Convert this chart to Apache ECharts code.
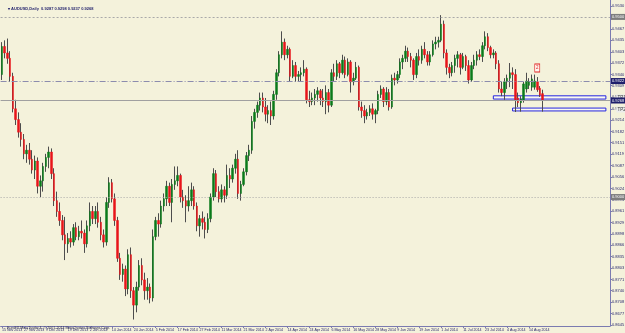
<!DOCTYPE html>
<html><head><meta charset="utf-8">
<script src="https://cdn.jsdelivr.net/npm/echarts@6/dist/echarts.min.js"></script>
<style>html,body{margin:0;padding:0;background:#F4F2DB;overflow:hidden}#c{width:625px;height:333px}</style>
</head><body><div id="c"></div>
<script>
// ---- trading days per month ----
const daysNov2013 = [15,18,19,20,21,22,25,26,27,28,29];
const daysDec2013 = [2,3,4,5,6,9,10,11,12,13,16,17,18,19,20,23,24,26,27,30,31];
const daysJan2014 = [2,3,6,7,8,9,10,13,14,15,16,17,20,21,22,23,24,27,28,29,30,31];
const daysFeb2014 = [3,4,5,6,7,10,11,12,13,14,17,18,19,20,21,24,25,26,27,28];
const daysMar2014 = [3,4,5,6,7,10,11,12,13,14,17,18,19,20,21,24,25,26,27,28,31];
const daysApr2014 = [1,2,3,4,7,8,9,10,11,14,15,16,17,18,21,22,23,24,25,28,29,30];
const daysMay2014 = [1,2,5,6,7,8,9,12,13,14,15,16,19,20,21,22,23,26,27,28,29,30];
const daysJun2014 = [2,3,4,5,6,9,10,11,12,13,16,17,18,19,20,23,24,25,26,27,30];
const daysJul2014 = [1,2,3,4,7,8,9,10,11,14,15,16,17,18,21,22,23,24,25,28,29,30,31];
const daysAug2014 = [1,4,5,6,7,8,11,12,13,14,15,18,19,20,21];
// empty future slots (chart shift area)
const futureDates = ['22 Aug 2014','25 Aug 2014','26 Aug 2014','27 Aug 2014','28 Aug 2014','29 Aug 2014',
 '1 Sep 2014','2 Sep 2014','3 Sep 2014','4 Sep 2014','5 Sep 2014','8 Sep 2014','9 Sep 2014','10 Sep 2014',
 '11 Sep 2014','12 Sep 2014','15 Sep 2014','16 Sep 2014','17 Sep 2014','18 Sep 2014','19 Sep 2014',
 '22 Sep 2014','23 Sep 2014','24 Sep 2014'];

// ---- OHLC per month: [open, high, low, close] ----
const nov2013 = [
[0.9340,0.9430,0.9325,0.9418],[0.9418,0.9435,0.9385,0.9400],[0.9400,0.9440,0.9370,0.9385],
[0.9385,0.9405,0.9320,0.9335],[0.9335,0.9345,0.9235,0.9245],[0.9245,0.9270,0.9200,0.9215],
[0.9215,0.9235,0.9165,0.9180],[0.9180,0.9205,0.9140,0.9160],[0.9160,0.9175,0.9105,0.9120],
[0.9120,0.9145,0.9095,0.9130],[0.9130,0.9150,0.9090,0.9105]];
const dec2013 = [
[0.9105,0.9130,0.9065,0.9075],[0.9075,0.9115,0.9050,0.9100],[0.9100,0.9110,0.9010,0.9030],
[0.9030,0.9060,0.9000,0.9045],[0.9045,0.9095,0.9015,0.9085],[0.9085,0.9120,0.9070,0.9110],
[0.9110,0.9140,0.9080,0.9125],[0.9125,0.9135,0.9050,0.9065],[0.9065,0.9080,0.8975,0.8990],
[0.8990,0.9015,0.8945,0.8960],[0.8960,0.8985,0.8920,0.8935],[0.8935,0.8950,0.8880,0.8895],
[0.8895,0.8945,0.8825,0.8870],[0.8870,0.8900,0.8845,0.8885],[0.8885,0.8905,0.8860,0.8875],
[0.8875,0.8925,0.8865,0.8915],[0.8915,0.8930,0.8880,0.8890],[0.8890,0.8920,0.8880,0.8905],
[0.8905,0.8935,0.8885,0.8900],[0.8900,0.8910,0.8845,0.8870],[0.8870,0.8935,0.8860,0.8920]];
const jan2014 = [
[0.8920,0.8985,0.8905,0.8960],[0.8960,0.8975,0.8925,0.8940],[0.8940,0.8975,0.8925,0.8960],
[0.8960,0.8985,0.8915,0.8930],[0.8930,0.8945,0.8880,0.8895],[0.8895,0.8910,0.8860,0.8875],
[0.8875,0.9000,0.8865,0.8985],[0.8985,0.9055,0.8970,0.9040],[0.9040,0.9050,0.8985,0.8995],
[0.8995,0.9010,0.8920,0.8935],[0.8935,0.8945,0.8820,0.8830],[0.8830,0.8845,0.8770,0.8785],
[0.8785,0.8815,0.8765,0.8800],[0.8800,0.8810,0.8725,0.8745],[0.8745,0.8855,0.8730,0.8840],
[0.8840,0.8860,0.8720,0.8740],[0.8740,0.8750,0.8660,0.8700],[0.8700,0.8765,0.8680,0.8750],
[0.8750,0.8825,0.8740,0.8810],[0.8810,0.8830,0.8755,0.8770],[0.8770,0.8790,0.8715,0.8740],
[0.8740,0.8775,0.8715,0.8750]];
const feb2014 = [
[0.8750,0.8760,0.8705,0.8720],[0.8720,0.8910,0.8710,0.8890],[0.8890,0.8945,0.8880,0.8935],
[0.8935,0.8955,0.8890,0.8925],[0.8925,0.8990,0.8915,0.8975],[0.8975,0.9010,0.8960,0.8995],
[0.8995,0.9045,0.8975,0.9030],[0.9030,0.9040,0.8975,0.8985],[0.8985,0.9050,0.8930,0.9035],
[0.9035,0.9085,0.9020,0.9045],[0.9045,0.9085,0.9030,0.9060],[0.9060,0.9065,0.8985,0.9000],
[0.9000,0.9020,0.8970,0.8990],[0.8990,0.9005,0.8930,0.8975],[0.8975,0.9030,0.8960,0.8990],
[0.8990,0.9040,0.8975,0.9020],[0.9020,0.9030,0.8965,0.8975],[0.8975,0.8985,0.8905,0.8920],
[0.8920,0.8950,0.8890,0.8940],[0.8940,0.8960,0.8910,0.8930]];
const mar2014 = [
[0.8930,0.8945,0.8885,0.8910],[0.8910,0.8955,0.8900,0.8940],[0.8940,0.9010,0.8930,0.9000],
[0.9000,0.9080,0.8990,0.9065],[0.9065,0.9075,0.9000,0.9015],[0.9015,0.9030,0.8985,0.8995],
[0.8995,0.9035,0.8985,0.9020],[0.9020,0.9030,0.8985,0.9005],[0.9005,0.9090,0.8995,0.9060],
[0.9060,0.9080,0.9025,0.9050],[0.9050,0.9090,0.9040,0.9080],[0.9080,0.9120,0.9065,0.9105],
[0.9105,0.9130,0.8995,0.9010],[0.9010,0.9045,0.8990,0.9035],[0.9035,0.9080,0.9030,0.9070],
[0.9070,0.9125,0.9060,0.9115],[0.9115,0.9145,0.9100,0.9130],[0.9130,0.9225,0.9120,0.9210],
[0.9210,0.9245,0.9190,0.9235],[0.9235,0.9265,0.9220,0.9255],[0.9255,0.9290,0.9240,0.9275]];
const apr2014 = [
[0.9275,0.9290,0.9235,0.9250],[0.9250,0.9275,0.9210,0.9230],[0.9230,0.9255,0.9205,0.9240],
[0.9240,0.9265,0.9200,0.9225],[0.9225,0.9295,0.9215,0.9285],[0.9285,0.9355,0.9270,0.9345],
[0.9345,0.9405,0.9335,0.9395],[0.9395,0.9460,0.9385,0.9430],[0.9430,0.9440,0.9380,0.9395],
[0.9395,0.9420,0.9385,0.9410],[0.9410,0.9415,0.9320,0.9335],[0.9335,0.9380,0.9330,0.9365],
[0.9365,0.9375,0.9320,0.9335],[0.9335,0.9350,0.9320,0.9340],[0.9340,0.9360,0.9320,0.9345],
[0.9345,0.9380,0.9335,0.9355],[0.9355,0.9360,0.9260,0.9270],[0.9270,0.9295,0.9250,0.9265],
[0.9265,0.9290,0.9255,0.9275],[0.9275,0.9300,0.9255,0.9285],[0.9285,0.9305,0.9265,0.9295],
[0.9295,0.9300,0.9255,0.9275]];
const may2014 = [
[0.9275,0.9300,0.9250,0.9265],[0.9265,0.9310,0.9230,0.9290],[0.9290,0.9300,0.9235,0.9255],
[0.9255,0.9355,0.9250,0.9345],[0.9345,0.9370,0.9320,0.9335],[0.9335,0.9380,0.9325,0.9370],
[0.9370,0.9375,0.9330,0.9345],[0.9345,0.9395,0.9340,0.9380],[0.9380,0.9390,0.9330,0.9340],
[0.9340,0.9385,0.9335,0.9375],[0.9375,0.9380,0.9290,0.9320],[0.9320,0.9345,0.9310,0.9330],
[0.9330,0.9375,0.9325,0.9360],[0.9360,0.9365,0.9240,0.9250],[0.9250,0.9265,0.9220,0.9240],
[0.9240,0.9255,0.9205,0.9225],[0.9225,0.9245,0.9215,0.9235],[0.9235,0.9255,0.9225,0.9245],
[0.9245,0.9260,0.9215,0.9230],[0.9230,0.9245,0.9205,0.9240],[0.9240,0.9295,0.9230,0.9285],
[0.9285,0.9310,0.9275,0.9300]];
const jun2014 = [
[0.9300,0.9305,0.9250,0.9265],[0.9265,0.9305,0.9255,0.9290],[0.9290,0.9300,0.9240,0.9250],
[0.9250,0.9340,0.9245,0.9330],[0.9330,0.9345,0.9310,0.9325],[0.9325,0.9350,0.9315,0.9340],
[0.9340,0.9385,0.9330,0.9375],[0.9375,0.9395,0.9355,0.9385],[0.9385,0.9420,0.9375,0.9405],
[0.9405,0.9415,0.9375,0.9390],[0.9390,0.9400,0.9360,0.9380],[0.9380,0.9385,0.9325,0.9340],
[0.9340,0.9400,0.9330,0.9390],[0.9390,0.9410,0.9365,0.9380],[0.9380,0.9420,0.9370,0.9410],
[0.9410,0.9430,0.9385,0.9395],[0.9395,0.9405,0.9365,0.9375],[0.9375,0.9405,0.9365,0.9395],
[0.9395,0.9435,0.9390,0.9425],[0.9425,0.9445,0.9410,0.9430],[0.9430,0.9445,0.9415,0.9435]];
const jul2014 = [
[0.9435,0.9505,0.9430,0.9480],[0.9480,0.9490,0.9385,0.9400],[0.9400,0.9410,0.9340,0.9360],
[0.9360,0.9370,0.9330,0.9345],[0.9345,0.9375,0.9335,0.9365],[0.9365,0.9395,0.9345,0.9385],
[0.9385,0.9405,0.9360,0.9395],[0.9395,0.9400,0.9340,0.9360],[0.9360,0.9400,0.9355,0.9390],
[0.9390,0.9395,0.9350,0.9365],[0.9365,0.9380,0.9315,0.9325],[0.9325,0.9375,0.9320,0.9365],
[0.9365,0.9395,0.9355,0.9380],[0.9380,0.9405,0.9365,0.9395],[0.9395,0.9410,0.9380,0.9390],
[0.9390,0.9430,0.9375,0.9420],[0.9420,0.9460,0.9410,0.9445],[0.9445,0.9455,0.9405,0.9415],
[0.9415,0.9420,0.9385,0.9395],[0.9395,0.9410,0.9385,0.9400],[0.9400,0.9405,0.9355,0.9370],
[0.9370,0.9380,0.9290,0.9300],[0.9300,0.9320,0.9280,0.9290]];
const aug2014 = [
[0.9290,0.9330,0.9270,0.9320],[0.9320,0.9340,0.9300,0.9330],[0.9330,0.9372,0.9305,0.9345],
[0.9345,0.9360,0.9300,0.9340],[0.9340,0.9355,0.9236,0.9270],[0.9275,0.9290,0.9250,0.9262],
[0.9262,0.9280,0.9237,0.9272],[0.9270,0.9320,0.9262,0.9314],[0.9300,0.9345,0.9290,0.9322],
[0.9310,0.9330,0.9300,0.9320],[0.9305,0.9340,0.9295,0.9328],[0.9305,0.9340,0.9298,0.9322],
[0.9320,0.9333,0.9292,0.9298],[0.9302,0.9308,0.9278,0.9283],[0.9287,0.9298,0.9237,0.9268]];

// ---- price axis tick labels ----
const priceTicks = [0.8645,0.8677,0.8708,0.8740,0.8771,0.8803,0.8835,0.8866,0.8898,0.8929,0.8961,
 0.8993,0.9024,0.9056,0.9087,0.9119,0.9151,0.9182,0.9214,0.9245,0.9277,0.9309,0.9340,0.9372,
 0.9403,0.9435,0.9467,0.9498,0.9530];

// ---- drawn objects ----
const levelHigh = 0.9500;
const levelMid = 0.9322;
const levelLow = 0.9000;
const tp1 = {from:'28 Jul 2014', to:'23 Sep 2014', top:0.9281, bottom:0.9272};
const tp2 = {from:'6 Aug 2014', to:'23 Sep 2014', top:0.9247, bottom:0.9239};
const marker = {date:'19 Aug 2014', price:0.9358, text:'2'};

// ---- build ----
const monthBlocks = [
 ['Nov 2013',daysNov2013,nov2013],['Dec 2013',daysDec2013,dec2013],['Jan 2014',daysJan2014,jan2014],
 ['Feb 2014',daysFeb2014,feb2014],['Mar 2014',daysMar2014,mar2014],['Apr 2014',daysApr2014,apr2014],
 ['May 2014',daysMay2014,may2014],['Jun 2014',daysJun2014,jun2014],['Jul 2014',daysJul2014,jul2014],
 ['Aug 2014',daysAug2014,aug2014]];
const dates = [], bars = [];
monthBlocks.forEach(([m,days,rows])=>{days.forEach((d,i)=>{dates.push(d+' '+m); bars.push(rows[i]);});});
const nBars = bars.length;
const categories = dates.concat(futureDates);
const wickData = bars.map(b=>[b[0],b[3],b[2],b[1]]);
const bodyData = bars.map(b=>[b[0],b[3],Math.min(b[0],b[3]),Math.max(b[0],b[3])]);
const last = bars[nBars-1];
const lastClose = last[3];

const FONT = 'Liberation Sans';
const NAVY = '#1f1f6b';
const axisLabelBox = (bg)=>({show:true,position:'end',distance:1,formatter:p=>Number(p.value).toFixed(4),
  fontSize:4,fontFamily:FONT,color:'#fff',backgroundColor:bg,padding:[1,2,1,1]});

const chart = echarts.init(document.getElementById('c'), null, {renderer:'canvas'});
chart.setOption({
  animation:false,
  backgroundColor:'#F4F2DB',
  title:[
    {text:'\u25BE AUDUSD,Daily  '+last.map(v=>v.toFixed(4)).join(' '),left:3,top:2,
     textStyle:{fontSize:4,fontWeight:'bold',color:NAVY,fontFamily:FONT}},
    {text:'EuroFX MetaTrader 4, \u00A9 2001-2014 MetaQuotes Software Corp.',left:2,top:321,
     textStyle:{fontSize:3.6,fontWeight:'normal',color:'#2a2a50',fontFamily:FONT}}
  ],
  grid:{left:0.6,right:15,top:0,bottom:7,outerBoundsMode:'none',containLabel:false},
  xAxis:{type:'category',data:categories,boundaryGap:true,
    axisLine:{show:true,lineStyle:{color:'#7b7bb0',width:1}},
    axisTick:{show:true,alignWithLabel:true,length:2,interval:(i)=>i%8===0&&i<nBars,lineStyle:{color:'#7b7bb0'}},
    axisLabel:{show:true,interval:(i)=>i%8===0&&i<nBars,fontSize:3.6,fontFamily:FONT,color:NAVY,align:'left',margin:2},
    splitLine:{show:false}},
  yAxis:{type:'value',position:'right',min:0.8642,max:0.9547,scale:true,
    axisLine:{show:true,lineStyle:{color:'#7b7bb0',width:1}},
    axisTick:{show:true,customValues:priceTicks,length:2,inside:false,lineStyle:{color:'#7b7bb0'}},
    axisLabel:{show:true,customValues:priceTicks,fontSize:4,fontFamily:FONT,color:NAVY,margin:2,
      formatter:v=>v.toFixed(4)},
    splitLine:{show:false}},
  series:[
    {type:'candlestick',name:'wicks',data:wickData,barWidth:1,silent:true,
     itemStyle:{color:'#4d4d4d',color0:'#4d4d4d',borderColor:'#4d4d4d',borderColor0:'#4d4d4d',borderWidth:1}},
    {type:'candlestick',name:'AUDUSD',data:bodyData,barWidth:2,silent:true,
     itemStyle:{color:'#0a7a1a',color0:'#e8141a',borderColor:'#0a7a1a',borderColor0:'#e8141a',borderWidth:0.5},
     markLine:{silent:true,symbol:['none','none'],animation:false,precision:4,
       data:[
        {yAxis:levelHigh,lineStyle:{color:'#a9a9a9',type:[2,2],width:1},label:axisLabelBox('#7d7d7d')},
        {yAxis:levelMid,lineStyle:{color:'#8c8cae',type:[6,2,1,2],width:1},label:axisLabelBox(NAVY)},
        {yAxis:lastClose,lineStyle:{color:'#a0a0a0',type:'solid',width:1},label:axisLabelBox(NAVY)},
        {yAxis:levelLow,lineStyle:{color:'#a9a9a9',type:[1,2],width:1},label:axisLabelBox('#7d7d7d')}
       ]},
     markArea:{silent:true,
       itemStyle:{color:'rgba(255,255,255,0.55)',borderColor:'#2424e0',borderWidth:1},
       label:{show:true,position:'right',distance:10,fontSize:4.5,fontFamily:FONT,color:'#333',
         backgroundColor:'#ececec',padding:[1,1,0,1]},
       data:[
        [{name:'TP1',xAxis:tp1.from,yAxis:tp1.top},{xAxis:tp1.to,yAxis:tp1.bottom}],
        [{name:'TP2',xAxis:tp2.from,yAxis:tp2.top},{xAxis:tp2.to,yAxis:tp2.bottom}]
       ]},
     markPoint:{silent:true,
       data:[{coord:[marker.date,marker.price],symbol:'rect',symbolSize:[5,8],
         itemStyle:{color:'#fff7f0',borderColor:'#e02020',borderWidth:0.8},
         label:{show:true,position:'inside',formatter:marker.text,fontSize:4.5,color:'#e02020',fontFamily:FONT}}]}
    }
  ]
});
</script></body></html>
